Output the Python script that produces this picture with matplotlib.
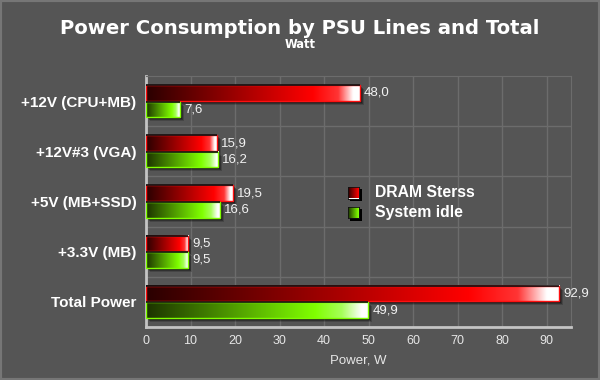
import numpy as np
import matplotlib
matplotlib.use('Agg')
import matplotlib.pyplot as plt
from matplotlib.colors import LinearSegmentedColormap
from matplotlib.patches import Rectangle
from matplotlib import transforms

plt.rcParams['font.family'] = ['Liberation Sans', 'DejaVu Sans']

categories = ['+12V (CPU+MB)', '+12V#3 (VGA)', '+5V (MB+SSD)', '+3.3V (MB)', 'Total Power']
dram_stress = [48.0, 15.9, 19.5, 9.5, 92.9]
system_idle = [7.6, 16.2, 16.6, 9.5, 49.9]
series_names = ['DRAM Sterss', 'System idle']
xticks = [0, 10, 20, 30, 40, 50, 60, 70, 80, 90]

bg = '#555555'
red_cmap = LinearSegmentedColormap.from_list(
    'redgrad', [(0, '#2a0000'), (0.78, '#ff0000'), (0.9, '#ff3535'), (0.97, '#ffffff'), (1, '#ffffff')])
green_cmap = LinearSegmentedColormap.from_list(
    'greengrad', [(0, '#1c3300'), (0.76, '#80ff00'), (0.88, '#a6ff5a'), (0.97, '#ffffff'), (1, '#ffffff')])
edge_colors = ['#ff1010', '#80ff00']
cmaps = [red_cmap, green_cmap]

fig = plt.figure(figsize=(6, 3.8), dpi=100, facecolor=bg)
fig.patches.append(Rectangle((0, 0), 1, 1, transform=fig.transFigure, fill=False,
                             edgecolor='#767676', linewidth=3))

ax = fig.add_axes([146 / 600, 1 - 327 / 380, (571 - 146) / 600, (327 - 76) / 380])
ax.set_facecolor(bg)

gradient = np.linspace(0, 1, 256).reshape(1, -1)
bar_h = 0.31
offsets = [-0.165, 0.165]


def grad_bar(yc, w, cmap, edge):
    top = yc - bar_h / 2
    bot = yc + bar_h / 2
    # soft shadow
    for dx, a in [(4, 0.18), (3, 0.3), (2, 0.35)]:
        tr = transforms.offset_copy(ax.transData, fig=fig, x=dx, y=-dx, units='dots')
        ax.add_patch(Rectangle((0, top), w, bar_h, transform=tr, facecolor='black',
                               edgecolor='none', alpha=a, zorder=2))
    ax.imshow(gradient, extent=[0, w, bot, top], aspect='auto', cmap=cmap,
              interpolation='bilinear', zorder=3)
    ax.add_patch(Rectangle((0, top), w, bar_h, facecolor='none', edgecolor=edge,
                           linewidth=1.0, zorder=4))
    ax.plot([0, w], [top, top], color='#111111', lw=1.2, zorder=5, solid_capstyle='butt')


for s, vals in enumerate([dram_stress, system_idle]):
    for i, v in enumerate(vals):
        yc = i + offsets[s]
        grad_bar(yc, v, cmaps[s], edge_colors[s])
        ax.annotate(f'{v:.1f}'.replace('.', ','), (v, yc), xytext=(3, 0),
                    textcoords='offset points', va='center', ha='left',
                    color='#f2f2f2', fontsize=9.5, zorder=6)

ax.set_xlim(0, 95.5)
ax.set_ylim(4.5, -0.5)
ax.set_xticks(xticks)
ax.set_yticks(range(len(categories)))
ax.set_yticklabels(categories, fontweight='bold', fontsize=11, color='white')
ax.set_yticks([0.5, 1.5, 2.5, 3.5], minor=True)
ax.tick_params(axis='x', length=0, pad=6, labelsize=9, labelcolor='#e6e6e6')
ax.tick_params(axis='y', which='both', length=0, pad=7)
ax.grid(axis='x', color='#6c6c6c', lw=1, zorder=0)
ax.grid(axis='y', which='minor', color='#6c6c6c', lw=1, zorder=0)
ax.set_axisbelow(True)
for side in ['top', 'right']:
    ax.spines[side].set_color('#6c6c6c')
for side in ['left', 'bottom']:
    ax.spines[side].set_color('#c4c4c4')
    ax.spines[side].set_linewidth(2)
ax.set_xlabel('Power, W', color='#e6e6e6', fontsize=9.5, labelpad=5)

fig.text(0.5, 1 - 28.5 / 380, 'Power Consumption by PSU Lines and Total', ha='center',
         va='center', fontsize=14.1, fontweight='bold', color='white', family='DejaVu Sans')
fig.text(0.5, 1 - 45 / 380, 'Watt', ha='center', va='center', fontsize=8.3,
         fontweight='bold', color='white', family='DejaVu Sans')

# legend
for s, name in enumerate(series_names):
    yc = 192.5 + 20 * s
    sh = fig.add_axes([350 / 600, 1 - (yc + 8) / 380, 12 / 600, 12 / 380])
    sh.set_facecolor('black')
    sh.set_xticks([]); sh.set_yticks([])
    for sp in sh.spines.values():
        sp.set_visible(False)
    lax = fig.add_axes([348 / 600, 1 - (yc + 6) / 380, 11 / 600, 12 / 380])
    lax.imshow(gradient, aspect='auto', cmap=cmaps[s], extent=[0, 1, 0, 1],
               vmin=0, vmax=1.25)
    lax.set_xticks([]); lax.set_yticks([])
    for sp in lax.spines.values():
        sp.set_color('#111111')
        sp.set_linewidth(0.6)
    fig.text(375 / 600, 1 - yc / 380, name, ha='left', va='center', fontsize=11.3,
             fontweight='bold', color='white')

fig.savefig('out.png', dpi=100, facecolor=bg)
